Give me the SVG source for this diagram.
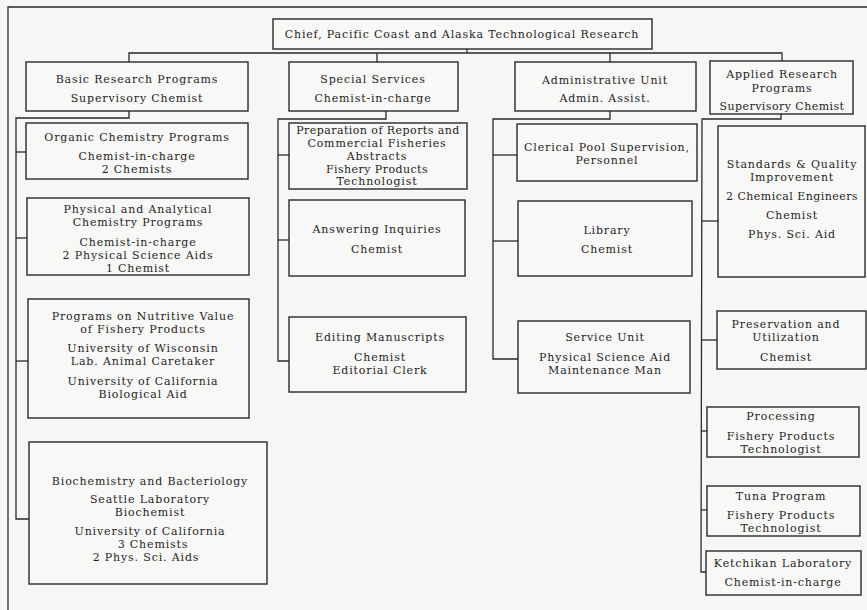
<svg xmlns="http://www.w3.org/2000/svg" width="867" height="610" viewBox="0 0 867 610">
<style>
.bg{fill:#f6f6f4}
.box{fill:#f8f8f6;stroke:#2a2a2a;stroke-width:1.4}
.ln{fill:none;stroke:#2a2a2a;stroke-width:1.3}
text{font-family:"DejaVu Serif","Liberation Serif",serif;font-size:11px;letter-spacing:0.85px;fill:#1e1e1e;text-anchor:middle}
.tight{letter-spacing:0.45px}
</style>
<rect class="bg" x="0" y="0" width="867" height="610"/>
<polyline class="ln" points="8,610 8,7 867,7"/>
<g id="connectors">
<polyline class="ln" points="467,49 467,53"/>
<polyline class="ln" points="129,62 129,53 782,53 782,61"/>
<polyline class="ln" points="377,53 377,62"/>
<polyline class="ln" points="610,53 610,62"/>
<polyline class="ln" points="129,111 129,118 16,118 16,519 29,519"/>
<polyline class="ln" points="16,152 26,152"/>
<polyline class="ln" points="16,238 27,238"/>
<polyline class="ln" points="16,361 28,361"/>
<polyline class="ln" points="386,111 386,119 278,119 278,361 289,361"/>
<polyline class="ln" points="278,155 289,155"/>
<polyline class="ln" points="278,240 289,240"/>
<polyline class="ln" points="610,111 610,119 493,119 493,359 518,359"/>
<polyline class="ln" points="493,155 517,155"/>
<polyline class="ln" points="493,241 518,241"/>
<polyline class="ln" points="781,114 781,119 702,119 701,572 706,572"/>
<polyline class="ln" points="702,221 718,221"/>
<polyline class="ln" points="702,340 717,340"/>
<polyline class="ln" points="701,431 707,431"/>
<polyline class="ln" points="701,510 707,510"/>
</g>
<g id="chief"><rect class="box" x="273" y="19" width="379" height="30"/><text x="462" y="38">Chief, Pacific Coast and Alaska Technological Research</text></g>
<g id="basic"><rect class="box" x="26" y="62" width="222" height="49"/><text x="137" y="83">Basic Research Programs</text><text x="137" y="102">Supervisory Chemist</text></g>
<g id="special"><rect class="box" x="289" y="62" width="169" height="49"/><text x="373" y="83">Special Services</text><text x="373" y="102">Chemist-in-charge</text></g>
<g id="admin"><rect class="box" x="515" y="62" width="181" height="49"/><text x="605" y="84">Administrative Unit</text><text x="605" y="102">Admin. Assist.</text></g>
<g id="applied"><rect class="box" x="710" y="61" width="143" height="53"/><text x="782" y="78">Applied Research</text><text x="782" y="92">Programs</text><text class="tight" x="782" y="110">Supervisory Chemist</text></g>
<g id="organic"><rect class="box" x="26" y="123" width="222" height="56"/><text x="137" y="141">Organic Chemistry Programs</text><text x="137" y="160">Chemist-in-charge</text><text x="137" y="173">2 Chemists</text></g>
<g id="physical"><rect class="box" x="27" y="198" width="222" height="77"/><text x="138" y="213">Physical and Analytical</text><text x="138" y="226">Chemistry  Programs</text><text x="138" y="246">Chemist-in-charge</text><text x="138" y="259">2 Physical Science Aids</text><text x="138" y="272">1  Chemist</text></g>
<g id="nutritive"><rect class="box" x="28" y="299" width="221" height="119"/><text x="143" y="320">Programs on Nutritive Value</text><text x="143" y="333">of Fishery Products</text><text x="143" y="352">University of Wisconsin</text><text x="143" y="365">Lab. Animal Caretaker</text><text x="143" y="385">University of California</text><text x="143" y="398">Biological Aid</text></g>
<g id="biochem"><rect class="box" x="29" y="442" width="238" height="142"/><text x="150" y="485">Biochemistry and Bacteriology</text><text x="150" y="503">Seattle Laboratory</text><text x="150" y="516">Biochemist</text><text x="150" y="535">University of California</text><text x="153" y="548">3 Chemists</text><text x="146" y="561">2 Phys. Sci. Aids</text></g>
<g id="preparation"><rect class="box" x="289" y="123" width="178" height="66"/><text class="tight" x="378" y="134">Preparation of Reports and</text><text x="377" y="147">Commercial Fisheries</text><text x="377" y="160">Abstracts</text><text class="tight" x="377" y="173">Fishery Products</text><text x="377" y="185">Technologist</text></g>
<g id="answering"><rect class="box" x="289" y="200" width="176" height="76"/><text x="377" y="233">Answering Inquiries</text><text x="377" y="253">Chemist</text></g>
<g id="editing"><rect class="box" x="289" y="317" width="177" height="75"/><text x="380" y="341">Editing Manuscripts</text><text x="380" y="361">Chemist</text><text x="380" y="374">Editorial  Clerk</text></g>
<g id="clerical"><rect class="box" x="517" y="124" width="180" height="57"/><text x="607" y="151">Clerical Pool Supervision,</text><text x="607" y="164">Personnel</text></g>
<g id="library"><rect class="box" x="518" y="201" width="174" height="75"/><text x="607" y="234">Library</text><text x="607" y="253">Chemist</text></g>
<g id="service"><rect class="box" x="518" y="321" width="172" height="72"/><text x="605" y="341">Service  Unit</text><text x="605" y="361">Physical Science Aid</text><text x="605" y="374">Maintenance  Man</text></g>
<g id="standards"><rect class="box" x="718" y="126" width="147" height="151"/><text x="792" y="168">Standards &amp; Quality</text><text x="792" y="181">Improvement</text><text class="tight" x="792" y="200">2 Chemical Engineers</text><text x="792" y="219">Chemist</text><text x="792" y="238">Phys. Sci. Aid</text></g>
<g id="preservation"><rect class="box" x="717" y="311" width="149" height="58"/><text x="786" y="328">Preservation and</text><text x="786" y="341">Utilization</text><text x="786" y="361">Chemist</text></g>
<g id="processing"><rect class="box" x="707" y="407" width="152" height="50"/><text x="781" y="420">Processing</text><text x="781" y="440">Fishery  Products</text><text x="781" y="453">Technologist</text></g>
<g id="tuna"><rect class="box" x="707" y="486" width="153" height="50"/><text x="781" y="500">Tuna  Program</text><text x="781" y="519">Fishery  Products</text><text x="781" y="532">Technologist</text></g>
<g id="ketchikan"><rect class="box" x="706" y="551" width="155" height="44"/><text x="783" y="567">Ketchikan Laboratory</text><text x="783" y="586">Chemist-in-charge</text></g>
</svg>
